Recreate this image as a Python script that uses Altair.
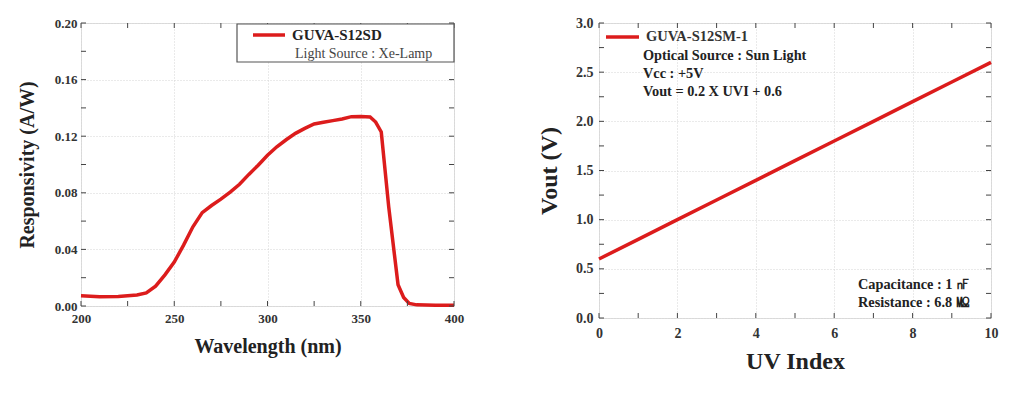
import altair as alt
import pandas as pd

# ---- Left panel data: GUVA-S12SD spectral responsivity ----
wavelength = [200, 210, 220, 230, 235, 240, 245, 250, 255, 260, 265, 270, 275, 280, 285,
              290, 295, 300, 305, 310, 315, 320, 325, 330, 335, 340, 345, 350, 355, 358,
              361, 365, 370, 373, 376, 380, 390, 400]
responsivity = [0.0072, 0.0066, 0.0068, 0.0078, 0.0092, 0.0140, 0.0220, 0.0310, 0.0430, 0.0560,
                0.0660, 0.0710, 0.0755, 0.0805, 0.0860, 0.0930, 0.0995, 0.1065, 0.1125, 0.1175,
                0.1220, 0.1255, 0.1286, 0.1298, 0.1310, 0.1322, 0.1338, 0.1340, 0.1336, 0.1300,
                0.1230, 0.0700, 0.0150, 0.0060, 0.0018, 0.0008, 0.0005, 0.0005]
left_xticks_major = [200, 250, 300, 350, 400]
left_xticks_all = [200, 225, 250, 275, 300, 325, 350, 375, 400]
left_yticks_major = [0.0, 0.04, 0.08, 0.12, 0.16, 0.20]
left_yticks_all = [0.0, 0.02, 0.04, 0.06, 0.08, 0.10, 0.12, 0.14, 0.16, 0.18, 0.20]

# ---- Right panel data: GUVA-S12SM-1 output voltage ----
uv_index = [0, 1, 2, 3, 4, 5, 6, 7, 8, 9, 10]
vout = [0.6, 0.8, 1.0, 1.2, 1.4, 1.6, 1.8, 2.0, 2.2, 2.4, 2.6]
right_xticks_major = [0, 2, 4, 6, 8, 10]
right_xticks_all = [0, 1, 2, 3, 4, 5, 6, 7, 8, 9, 10]
right_yticks_major = [0.0, 0.5, 1.0, 1.5, 2.0, 2.5, 3.0]
right_yticks_all = [0.0, 0.25, 0.5, 0.75, 1.0, 1.25, 1.5, 1.75, 2.0, 2.25, 2.5, 2.75, 3.0]

RED = "#dc1c1c"
SERIF = "Liberation Serif"
DARK = "#222222"


def panel(xs, ys, xname, yname, xdom, ydom, xmaj, xall, ymaj, yall, w, h, xfmt, yfmt,
          lab_size, title_size, x_tp, y_tp, lab_pad_x, lab_pad_y):
    df = pd.DataFrame({"x": xs, "y": ys})
    xscale = alt.Scale(domain=xdom, nice=False, zero=False)
    yscale = alt.Scale(domain=ydom, nice=False, zero=False)
    xaxis = alt.Axis(values=xmaj, format=xfmt, title=xname, grid=True, gridDash=[1, 2],
                     gridColor="#d4d4d4", ticks=False, tickSize=0, domain=False,
                     labelFont=SERIF, labelFontWeight="bold", labelFontSize=lab_size,
                     labelColor="#333333", labelPadding=lab_pad_x,
                     titleFont=SERIF, titleFontWeight="bold", titleFontSize=title_size,
                     titleColor=DARK, titlePadding=x_tp, labelFlush=False)
    yaxis = alt.Axis(values=ymaj, format=yfmt, title=yname, grid=True, gridDash=[1, 2],
                     gridColor="#d4d4d4", ticks=False, tickSize=0, domain=False,
                     labelFont=SERIF, labelFontWeight="bold", labelFontSize=lab_size,
                     labelColor="#333333", labelPadding=lab_pad_y,
                     titleFont=SERIF, titleFontWeight="bold", titleFontSize=title_size,
                     titleColor=DARK, titlePadding=y_tp, labelFlush=False)
    line = alt.Chart(df).mark_line(color=RED, strokeWidth=3.5).encode(
        x=alt.X("x:Q", scale=xscale, axis=xaxis),
        y=alt.Y("y:Q", scale=yscale, axis=yaxis),
    )
    xt = pd.DataFrame({"x": xall})
    yt = pd.DataFrame({"y": yall})
    tick_style = dict(color="#444444", strokeWidth=1)
    tb = alt.Chart(xt).mark_rule(**tick_style).encode(
        x=alt.X("x:Q", scale=xscale, axis=xaxis), y=alt.value(h), y2=alt.value(h - 5))
    tt = alt.Chart(xt).mark_rule(**tick_style).encode(
        x=alt.X("x:Q", scale=xscale, axis=xaxis), y=alt.value(0), y2=alt.value(5))
    tl = alt.Chart(yt).mark_rule(**tick_style).encode(
        y=alt.Y("y:Q", scale=yscale, axis=yaxis), x=alt.value(0), x2=alt.value(5))
    tr = alt.Chart(yt).mark_rule(**tick_style).encode(
        y=alt.Y("y:Q", scale=yscale, axis=yaxis), x=alt.value(w), x2=alt.value(w - 5))
    return line, [tb, tt, tl, tr]


LW, LH = 373, 283
line_l, ticks_l = panel(wavelength, responsivity, "Wavelength (nm)", "Responsivity (A/W)",
                        [200, 400], [0, 0.2], left_xticks_major, left_xticks_all,
                        left_yticks_major, left_yticks_all, LW, LH, "d", ".2f",
                        13, 20, 11, 17, 6, 4)

one = alt.Data(values=[{"a": 1}])
legend_box = alt.Chart(one).mark_rect(fill="white", stroke="#555555", strokeWidth=1.2).encode(
    x=alt.value(156), x2=alt.value(LW), y=alt.value(1), y2=alt.value(39))
legend_line = alt.Chart(one).mark_rule(color=RED, strokeWidth=3.5).encode(
    x=alt.value(172), x2=alt.value(204), y=alt.value(12))
legend_t1 = alt.Chart(one).mark_text(align="left", baseline="middle", font=SERIF,
                                     fontWeight="bold", fontSize=15, color=DARK,
                                     text="GUVA-S12SD").encode(
    x=alt.value(211), y=alt.value(12))
legend_t2 = alt.Chart(one).mark_text(align="left", baseline="middle", font=SERIF,
                                     fontSize=14, color="#444444",
                                     text="Light Source : Xe-Lamp").encode(
    x=alt.value(214), y=alt.value(31))

left = alt.layer(line_l, *ticks_l, legend_box, legend_line, legend_t1, legend_t2).properties(
    width=LW, height=LH)

RW, RH = 392, 295
line_r, ticks_r = panel(uv_index, vout, "UV Index", "Vout (V)",
                        [0, 10], [0, 3], right_xticks_major, right_xticks_all,
                        right_yticks_major, right_yticks_all, RW, RH, "d", ".1f",
                        14, 24, 9, 14, 8, 6)

ann_style = dict(align="left", baseline="middle", font=SERIF, fontWeight="bold",
                 fontSize=14.3, color=DARK)
r_line = alt.Chart(one).mark_rule(color=RED, strokeWidth=3.5).encode(
    x=alt.value(7), x2=alt.value(40), y=alt.value(14))
r_t1 = alt.Chart(one).mark_text(align="left", baseline="middle", font=SERIF, fontSize=14.5,
                                fontWeight="bold", color="#333333",
                                text="GUVA-S12SM-1").encode(x=alt.value(47), y=alt.value(14))
r_t2 = alt.Chart(one).mark_text(text="Optical Source : Sun Light", **ann_style).encode(
    x=alt.value(44), y=alt.value(33))
r_t3 = alt.Chart(one).mark_text(text="Vcc : +5V", **ann_style).encode(
    x=alt.value(44), y=alt.value(51))
r_t4 = alt.Chart(one).mark_text(text="Vout = 0.2 X UVI + 0.6", **ann_style).encode(
    x=alt.value(44), y=alt.value(69))
r_t5 = alt.Chart(one).mark_text(text="Capacitance : 1 ㎋", **ann_style).encode(
    x=alt.value(259), y=alt.value(262))
r_t6 = alt.Chart(one).mark_text(text="Resistance : 6.8 ㏁", **ann_style).encode(
    x=alt.value(259), y=alt.value(280))

right = alt.layer(line_r, *ticks_r, r_line, r_t1, r_t2, r_t3, r_t4, r_t5,
                  r_t6).properties(width=RW, height=RH)

chart = alt.hconcat(left, right, spacing=72).properties(
    padding={"left": 8, "top": 7, "right": 5, "bottom": 5}
).configure_view(stroke="#333333", strokeWidth=1.5).configure(background="white")

chart.save("out.html", embed_options={"renderer": "svg", "actions": False})
